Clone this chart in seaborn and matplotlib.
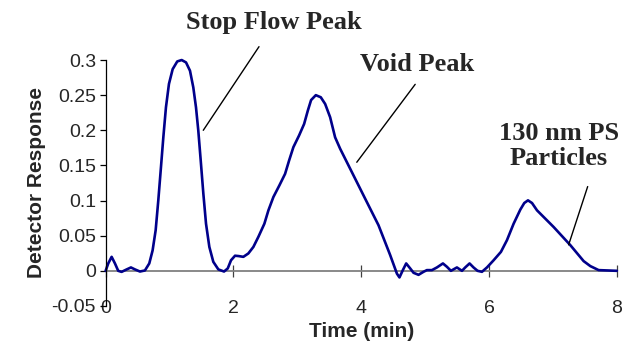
import matplotlib
matplotlib.use("Agg")
import matplotlib.pyplot as plt
import seaborn as sns
import pandas as pd

# ---- data ----
time_min = [0.0, 0.041, 0.094, 0.146, 0.197, 0.25, 0.329, 0.396, 0.459, 0.537,
            0.615, 0.683, 0.735, 0.783, 0.824, 0.866, 0.903, 0.944, 0.991, 1.049,
            1.121, 1.19, 1.258, 1.32, 1.372, 1.414, 1.45, 1.488, 1.529, 1.571,
            1.623, 1.685, 1.764, 1.853, 1.911, 1.962, 2.025, 2.08, 2.155, 2.233,
            2.312, 2.39, 2.484, 2.547, 2.625, 2.719, 2.808, 2.871, 2.938, 3.027,
            3.106, 3.164, 3.215, 3.289, 3.367, 3.435, 3.513, 3.591, 3.67, 3.853,
            4.061, 4.27, 4.453, 4.558, 4.598, 4.651, 4.703, 4.766, 4.818, 4.896,
            4.974, 5.027, 5.106, 5.184, 5.278, 5.341, 5.403, 5.497, 5.576, 5.627,
            5.695, 5.757, 5.82, 5.889, 5.967, 6.071, 6.186, 6.28, 6.384, 6.489,
            6.551, 6.609, 6.672, 6.75, 7.01, 7.272, 7.48, 7.585, 7.715, 8.0]
response = [0.0, 0.0105, 0.0199, 0.0105, 0.0, -0.0015, 0.002, 0.0048, 0.002, -0.001,
            0.0005, 0.0105, 0.029, 0.0578, 0.1, 0.1476, 0.19, 0.2327, 0.266, 0.287,
            0.298, 0.3, 0.2966, 0.2848, 0.261, 0.2327, 0.1997, 0.157, 0.11, 0.067,
            0.034, 0.0128, 0.002, -0.001, 0.0034, 0.015, 0.0215, 0.021, 0.0199, 0.0247,
            0.034, 0.0483, 0.067, 0.086, 0.105, 0.1216, 0.138, 0.157, 0.176, 0.1926,
            0.209, 0.228, 0.243, 0.25, 0.247, 0.2375, 0.2186, 0.19, 0.1737, 0.1405,
            0.1027, 0.0649, 0.0223, -0.004, -0.0094, 0.001, 0.0105, 0.0034, -0.0028, -0.0057,
            -0.0014, 0.001, 0.001, 0.0048, 0.0105, 0.0057, 0.0, 0.0048, 0.0, 0.0048,
            0.0105, 0.0048, 0.0, -0.0014, 0.0048, 0.015, 0.027, 0.0436, 0.067, 0.0871,
            0.0965, 0.1003, 0.0965, 0.0861, 0.0624, 0.0365, 0.0138, 0.0067, 0.001, 0.0]

x_ticks = [0, 2, 4, 6, 8]
y_ticks = [0.3, 0.25, 0.2, 0.15, 0.1, 0.05, 0, -0.05]
y_tick_labels = ["0.3", "0.25", "0.2", "0.15", "0.1", "0.05", "0", "-0.05"]

annot_labels = ["Stop Flow Peak", "Void Peak", "130 nm PS\nParticles"]
annot_text_xy = [(2.63, 0.354), (4.87, 0.293), (7.09, 0.178)]
annot_line_start = [(2.40, 0.319), (4.844, 0.2654), (7.543, 0.1199)]
annot_line_end = [(1.528, 0.200), (3.93, 0.1545), (7.245, 0.037)]

# ---- plotting ----
sns.set_theme(style="white")
plt.rcParams["font.family"] = ["Liberation Sans", "DejaVu Sans"]
plt.rcParams["axes.unicode_minus"] = False

fig = plt.figure(figsize=(6.25, 3.43), dpi=100)
ax = fig.add_axes([0.169, 0.108, 0.818, 0.717])

df = pd.DataFrame({"t": time_min, "r": response})
sns.lineplot(data=df, x="t", y="r", sort=False, estimator=None,
             color="#00008B", linewidth=1.9, ax=ax, clip_on=False,
             solid_joinstyle="round", solid_capstyle="round")

ax.set_xlim(0, 8)
ax.set_ylim(-0.05, 0.3)
ax.set_xticks(x_ticks)
ax.set_xticklabels([str(v) for v in x_ticks])
ax.set_yticks(y_ticks)
ax.set_yticklabels(y_tick_labels)

for s in ["top", "right"]:
    ax.spines[s].set_visible(False)
ax.spines["left"].set_color("black")
ax.spines["left"].set_linewidth(0.9)
ax.spines["bottom"].set_position(("data", 0))
ax.spines["bottom"].set_color("#808080")
ax.spines["bottom"].set_linewidth(1.3)
ax.spines["bottom"].set_zorder(1)

ax.tick_params(axis="y", direction="out", length=4, width=0.9, color="black",
               labelsize=14, pad=3, left=True)
ax.tick_params(axis="x", direction="inout", length=8.5, width=0.9, color="#404040",
               labelsize=14, pad=17, bottom=True)

ax.set_xlabel("Time (min)", fontsize=15, fontweight="bold", labelpad=3)
ax.set_ylabel("Detector Response", fontsize=15, fontweight="bold", labelpad=4)
ax.grid(False)

for lab, (tx, ty), p0, p1 in zip(annot_labels, annot_text_xy,
                                 annot_line_start, annot_line_end):
    ax.text(tx, ty, lab, ha="center", va="center", fontsize=19,
            fontweight="bold", family=["Liberation Serif"], clip_on=False,
            linespacing=1.1)
    ax.annotate("", xy=p1, xytext=p0, annotation_clip=False,
                arrowprops=dict(arrowstyle="-", color="black", lw=1.0,
                                shrinkA=0, shrinkB=0))

fig.savefig("out.png", dpi=100)
